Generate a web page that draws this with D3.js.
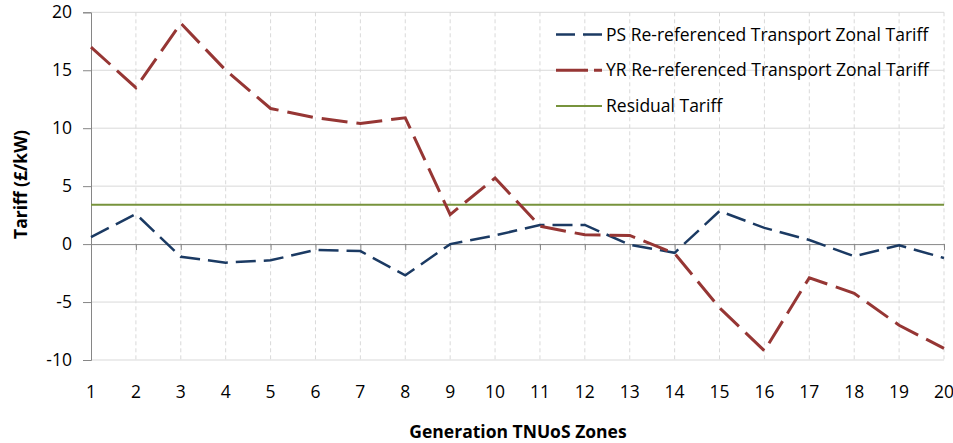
<!DOCTYPE html>
<html>
<head>
<meta charset="utf-8">
<script src="https://cdn.jsdelivr.net/npm/d3@7"></script>
<style>
  html, body { margin: 0; padding: 0; background: #fff; }
  svg { display: block; font-family: "Open Sans", sans-serif; }
</style>
</head>
<body>
<svg id="chart" width="953" height="443"></svg>
<script>
// Generation TNUoS zones 1..20
const zones = d3.range(1, 21);
const yTicks = [-10, -5, 0, 5, 10, 15, 20];

// Re-referenced transport zonal tariffs (£/kW)
const psTariff = [0.6, 2.6, -1.1, -1.6, -1.4, -0.5, -0.6, -2.7, 0.0, 0.75,
                  1.65, 1.65, -0.05, -0.75, 2.85, 1.4, 0.35, -1.05, -0.1, -1.2];
const yrTariff = [17.0, 13.5, 19.05, 15.0, 11.7, 10.9, 10.4, 10.9, 2.55, 5.7,
                  1.55, 0.8, 0.75, -0.8, -5.5, -9.2, -2.9, -4.25, -7.0, -9.0];
const residualTariff = 3.4;

const seriesNames = ["PS Re-referenced Transport Zonal Tariff",
                     "YR Re-referenced Transport Zonal Tariff",
                     "Residual Tariff"];
const colors = ["#1b3a63", "#963634", "#77933c"];

const FONT = 17.5;
const svg = d3.select("#chart");
const plot = { left: 91, right: 944, top: 12.3, bottom: 360 };

const x = d3.scalePoint().domain(zones).range([plot.left, plot.right]);
const y = d3.scaleLinear().domain([-10, 20]).range([plot.bottom, plot.top]);

// horizontal gridlines
svg.append("g").selectAll("line")
  .data(yTicks.filter(v => v !== 0))
  .join("line")
  .attr("x1", plot.left).attr("x2", plot.right)
  .attr("y1", d => y(d)).attr("y2", d => y(d))
  .attr("stroke", "#d9d9d9").attr("stroke-width", 1);

// vertical dashed gridlines
svg.append("g").selectAll("line")
  .data(zones.slice(1))
  .join("line")
  .attr("x1", d => x(d)).attr("x2", d => x(d))
  .attr("y1", plot.top).attr("y2", plot.bottom)
  .attr("stroke", "#d9d9d9").attr("stroke-width", 1)
  .attr("stroke-dasharray", "4,3");

// y axis (plain hyphen for negatives)
const yAxis = d3.axisLeft(y).tickValues(yTicks).tickFormat(d => String(d))
  .tickSize(8).tickPadding(11);
const gy = svg.append("g").attr("transform", `translate(${plot.left},0)`).call(yAxis);
gy.select(".domain").attr("stroke", "#868686");
gy.selectAll(".tick line").attr("stroke", "#868686");
gy.selectAll(".tick text").attr("font-size", FONT).attr("fill", "#000")
  .attr("font-family", "'Open Sans', sans-serif");

// zero line with category ticks
const xAxis = d3.axisBottom(x).tickSize(6).tickFormat(() => "");
const gx = svg.append("g").attr("transform", `translate(0,${y(0)})`).call(xAxis);
gx.select(".domain").attr("stroke", "#868686");
gx.selectAll(".tick line").attr("stroke", "#868686");

// category labels along the bottom
svg.append("g").selectAll("text")
  .data(zones)
  .join("text")
  .attr("x", d => x(d)).attr("y", 398)
  .attr("text-anchor", "middle")
  .attr("font-size", FONT).attr("fill", "#000")
  .text(d => d);

// residual tariff
svg.append("line")
  .attr("x1", plot.left).attr("x2", plot.right)
  .attr("y1", y(residualTariff)).attr("y2", y(residualTariff))
  .attr("stroke", colors[2]).attr("stroke-width", 2);

const line = d3.line().x((d, i) => x(zones[i])).y(d => y(d));

svg.append("path").datum(psTariff)
  .attr("d", line).attr("fill", "none")
  .attr("stroke", colors[0]).attr("stroke-width", 2.5)
  .attr("stroke-dasharray", "20,8");

svg.append("path").datum(yrTariff)
  .attr("d", line).attr("fill", "none")
  .attr("stroke", colors[1]).attr("stroke-width", 3)
  .attr("stroke-dasharray", "26,9");

// legend
const legendRows = [
  { name: seriesNames[0], color: colors[0], width: 2.5, dash: "19,8" },
  { name: seriesNames[1], color: colors[1], width: 3, dash: "32,6" },
  { name: seriesNames[2], color: colors[2], width: 2, dash: null }
];
const lg = svg.append("g");
legendRows.forEach((r, i) => {
  const cy = 34.5 + i * 35.7;
  lg.append("line")
    .attr("x1", 556).attr("x2", 602).attr("y1", cy).attr("y2", cy)
    .attr("stroke", r.color).attr("stroke-width", r.width)
    .attr("stroke-dasharray", r.dash);
  lg.append("text")
    .attr("x", 606).attr("y", cy).attr("dy", "0.35em")
    .attr("font-size", FONT).attr("fill", "#000")
    .text(r.name);
});

// axis titles
svg.append("text")
  .attr("x", 518).attr("y", 438)
  .attr("text-anchor", "middle")
  .attr("font-size", FONT).attr("font-weight", "bold").attr("fill", "#000")
  .text("Generation TNUoS Zones");

svg.append("text")
  .attr("transform", "translate(27,184.5) rotate(-90)")
  .attr("text-anchor", "middle")
  .attr("font-size", FONT).attr("font-weight", "bold").attr("fill", "#000")
  .text("Tariff (£/kW)");
</script>
</body>
</html>
